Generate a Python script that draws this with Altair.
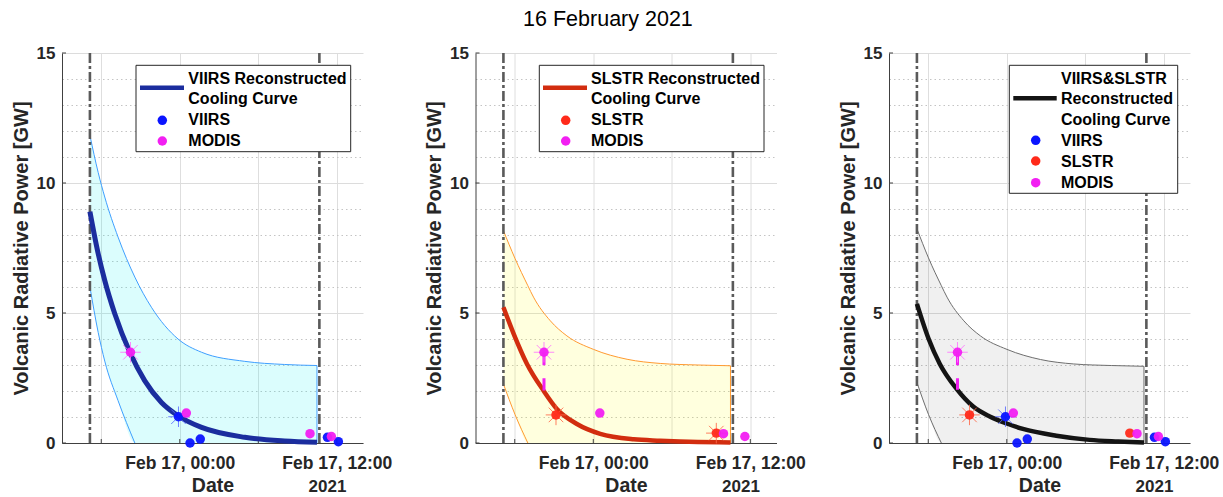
import altair as alt
import pandas as pd

FONT = "Liberation Sans"
TXT = "#262626"


def ts(s):
    d, hm = s.split()
    return f"2021-02-{d}T{hm}:00"


# ---------------- data ----------------
WINDOW_T = ["16 17:08", "17 10:40"]          # dash-dot analysis window
GRID_T = ["16 18:00", "17 00:00", "17 06:00", "17 12:00"]
Y_TICKS = [0, 5, 10, 15]

# panel 1: VIIRS reconstructed cooling curve
FIT1_T = ["16 17:08", "16 17:46", "16 18:16", "16 19:02", "16 20:11", "16 21:19",
          "16 22:36", "16 23:52", "17 01:40", "17 04:58", "17 08:00", "17 10:29"]
FIT1_V = [8.90, 7.28, 6.25, 4.97, 3.49, 2.40, 1.56, 1.05, 0.60, 0.22, 0.08, 0.03]
BAND1_T = ["16 17:08", "16 17:46", "16 18:16", "16 19:17", "16 20:34", "16 21:50",
           "16 23:52", "17 01:40", "17 04:58", "17 08:00", "17 10:29"]
BAND1_HI = [11.83, 10.40, 9.46, 7.92, 6.38, 5.22, 4.00, 3.49, 3.14, 3.02, 2.98]
BAND1_LO = [6.00, 4.25, 3.15, 1.63, 0.00, 0, 0, 0, 0, 0, 0]

# panel 2: SLSTR reconstructed cooling curve
FIT2_T = ["16 17:08", "16 17:55", "16 18:56", "16 20:12", "16 21:13", "16 22:45",
          "17 00:32", "17 03:05", "17 05:07", "17 08:00", "17 10:29"]
FIT2_V = [5.22, 4.20, 3.04, 2.01, 1.31, 0.73, 0.35, 0.14, 0.09, 0.04, 0.02]
BAND2_T = ["16 17:08", "16 18:01", "16 19:00", "16 19:26", "16 20:43", "16 21:59",
           "17 00:01", "17 02:35", "17 05:07", "17 08:00", "17 10:29"]
BAND2_HI = [8.17, 7.10, 6.05, 5.61, 4.70, 4.12, 3.60, 3.22, 3.06, 3.00, 2.97]
BAND2_LO = [2.27, 1.10, 0.00, 0, 0, 0, 0, 0, 0, 0, 0]

# panel 3: VIIRS&SLSTR reconstructed cooling curve
FIT3_T = ["16 17:08", "16 18:01", "16 18:53", "16 20:10", "16 21:26", "16 22:42",
          "17 00:00", "17 01:14", "17 03:47", "17 06:20", "17 08:30", "17 10:29"]
FIT3_V = [5.35, 4.02, 3.04, 2.08, 1.40, 1.02, 0.75, 0.54, 0.28, 0.12, 0.06, 0.02]
BAND3_T = BAND2_T
BAND3_HI = [8.24, 7.12, 6.05, 5.61, 4.70, 4.12, 3.60, 3.21, 3.04, 2.98, 2.95]
BAND3_LO = [2.33, 1.10, 0.00, 0, 0, 0, 0, 0, 0, 0, 0]

# observations
VIIRS_T = ["16 23:54", "17 00:47", "17 01:34", "17 11:17", "17 12:07"]
VIIRS_V = [1.01, 0.00, 0.15, 0.22, 0.05]
MODIS_T = ["16 20:14", "17 00:30", "17 09:57", "17 11:35"]
MODIS_V = [3.49, 1.15, 0.36, 0.25]
SLSTR_T = ["16 21:09", "17 09:24"]
SLSTR_V = [1.08, 0.38]

# ---------------- styling ----------------
W, H = 301, 390
X_SCALE = alt.Scale(domain=[alt.DateTime(year=2021, month=2, date=16, hours=15),
                            alt.DateTime(year=2021, month=2, date=17, hours=14)])
Y_SCALE = alt.Scale(domain=[0, 15], nice=False)

X_AXIS = alt.Axis(
    values=[alt.DateTime(year=2021, month=2, date=int(s.split()[0]),
                         hours=int(s.split()[1][:2])) for s in GRID_T],
    labelExpr="hours(datum.value) % 12 === 0 ? timeFormat(datum.value, '%b %d, %H:%M') : ''",
    grid=True, gridColor="#dedede", ticks=False, tickSize=0,
    domainColor="#404040", labelPadding=11, titlePadding=5,
    labelFontSize=17.5, titleFontSize=19.5, labelOverlap=False, labelBound=False,
    labelFlush=False,
)
Y_AXIS = alt.Axis(
    values=list(range(16)),
    labelExpr="datum.value % 5 === 0 ? datum.label : ''",
    grid=True,
    gridColor={"condition": {"test": "datum.value % 5 === 0", "value": "#dcdcdc"}, "value": "#c4c4c4"},
    gridDash={"condition": {"test": "datum.value % 5 === 0", "value": []}, "value": [1.5, 3]},
    ticks=False, tickSize=0, domainColor="#404040", labelPadding=7, titlePadding=5,
    labelFontSize=17, titleFontSize=20,
)


def frame(times, **cols):
    d = {"t": [ts(s) for s in times]}
    d.update(cols)
    return pd.DataFrame(d)


def xenc():
    return alt.X("t:T", scale=X_SCALE, axis=X_AXIS, title="Date")


def yenc():
    return alt.Y("v:Q", scale=Y_SCALE, axis=Y_AXIS, title="Volcanic Radiative Power [GW]")


ONE = pd.DataFrame({"k": [0]})

STAR_PATH = "M-1,0L1,0M0,-1L0,1M-0.71,-0.71L0.71,0.71M-0.71,0.71L0.71,-0.71"

SERIES = {
    "VIIRS": (VIIRS_T, VIIRS_V, "#0a14ff", "#5a6bff"),
    "SLSTR": (SLSTR_T, SLSTR_V, "#ff2a1a", "#ff6a4a"),
    "MODIS": (MODIS_T, MODIS_V, "#f21ff2", "#ff77ff"),
}


def panel(fit_t, fit_v, band_t, hi, lo, fill, fill_op, edge, curve, curve_w,
          series, stars, resid, legend):
    layers = []
    band = frame(band_t, v=hi, v2=lo)
    layers.append(alt.Chart(band).mark_area(color=fill, opacity=fill_op, interpolate="monotone")
                  .encode(x=xenc(), y=yenc(), y2="v2:Q"))
    layers.append(alt.Chart(band).mark_line(color=edge, strokeWidth=1, interpolate="monotone")
                  .encode(x=xenc(), y=yenc()))
    nz = next(i for i, x in enumerate(lo) if x <= 0)
    low = frame(band_t[: nz + 1], v=lo[: nz + 1])
    layers.append(alt.Chart(low).mark_line(color=edge, strokeWidth=1, interpolate="monotone")
                  .encode(x=xenc(), y=yenc()))
    edge_df = frame([band_t[-1]], v=[0.0], v2=[hi[-1]])
    layers.append(alt.Chart(edge_df).mark_rule(color=edge, strokeWidth=1)
                  .encode(x=xenc(), y=yenc(), y2="v2:Q"))
    # inward ticks
    layers.append(alt.Chart(pd.DataFrame({"v": Y_TICKS})).mark_rule(color="#404040")
                  .encode(y=yenc(), x=alt.value(0), x2=alt.value(4)))
    layers.append(alt.Chart(frame(GRID_T)).mark_rule(color="#404040")
                  .encode(x=xenc(), y=alt.value(H), y2=alt.value(H - 4)))
    # dash-dot window
    layers.append(alt.Chart(frame(WINDOW_T)).mark_rule(color="#5a5a5a", strokeWidth=2.6,
                                                       strokeDash=[10, 3, 3, 3])
                  .encode(x=xenc()))
    # fitted curve
    layers.append(alt.Chart(frame(fit_t, v=fit_v)).mark_line(color=curve, strokeWidth=curve_w,
                                                             interpolate="monotone")
                  .encode(x=xenc(), y=yenc()))
    # residual (dashed magenta)
    if resid is not None:
        rd = frame([MODIS_T[0]], v=[MODIS_V[0]], v2=[resid])
        layers.append(alt.Chart(rd).mark_rule(color="#f21ff2", strokeWidth=3, strokeDash=[13, 13])
                      .encode(x=xenc(), y=yenc(), y2="v2:Q"))
    # stars
    for name in series:
        tt, vv, col, scol = SERIES[name]
        idx = stars.get(name, [])
        if idx:
            sd = frame([tt[i] for i in idx], v=[vv[i] for i in idx])
            layers.append(alt.Chart(sd).mark_point(shape=STAR_PATH, size=420, color=scol,
                                                   strokeWidth=1, opacity=0.85, filled=False)
                          .encode(x=xenc(), y=yenc()))
    # points
    for name in series:
        tt, vv, col, scol = SERIES[name]
        layers.append(alt.Chart(frame(tt, v=vv)).mark_circle(size=90, color=col, opacity=0.95)
                      .encode(x=xenc(), y=yenc()))
    # legend (drawn box)
    bx0, by0, bx1, by1 = legend["box"]
    layers.append(alt.Chart(ONE).mark_rect(fill="white", stroke="#262626", strokeWidth=1)
                  .encode(x=alt.value(bx0), x2=alt.value(bx1), y=alt.value(by0), y2=alt.value(by1)))
    lx0, lx1, ly = legend["line"]
    layers.append(alt.Chart(ONE).mark_rule(color=curve, strokeWidth=4.5)
                  .encode(x=alt.value(lx0), x2=alt.value(lx1), y=alt.value(ly)))
    mx = legend["mx"]
    for name, my in zip(series, legend["my"]):
        layers.append(alt.Chart(ONE).mark_circle(size=90, color=SERIES[name][2], opacity=1)
                      .encode(x=alt.value(mx), y=alt.value(my)))
    layers.append(alt.Chart(ONE).mark_text(font=FONT, fontSize=16, fontWeight="bold", color="#000",
                                           align="left", baseline="middle", lineHeight=20.8)
                  .encode(x=alt.value(legend["tx"]), y=alt.value(legend["ty"]),
                          text=alt.value(legend["lines"])))
    # year label
    layers.append(alt.Chart(ONE).mark_text(font=FONT, fontSize=17, fontWeight="bold", color=TXT)
                  .encode(x=alt.value(265.5), y=alt.value(433.5), text=alt.value("2021")))
    return alt.layer(*layers).properties(width=W, height=H)


p1 = panel(FIT1_T, FIT1_V, BAND1_T, BAND1_HI, BAND1_LO, "#00f0f0", 0.14, "#3f9fff", "#1b2d9e", 5,
           ["VIIRS", "MODIS"], {"VIIRS": [0], "MODIS": [0]}, None,
           {"box": (74, 12.3, 288.7, 98.7), "line": (78, 122, 34.7), "mx": 100.3,
            "my": [67.3, 88], "tx": 126.3, "ty": 25.7,
            "lines": ["VIIRS Reconstructed", "Cooling Curve", "VIIRS", "MODIS"]})
p2 = panel(FIT2_T, FIT2_V, BAND2_T, BAND2_HI, BAND2_LO, "#ffff00", 0.13, "#ff9a30", "#d22d0f", 4.5,
           ["SLSTR", "MODIS"], {"MODIS": [0], "SLSTR": [0, 1]}, 2.02,
           {"box": (63.8, 12.3, 288.5, 98.7), "line": (67.5, 111.5, 34.7), "mx": 90.2,
            "my": [67.3, 88], "tx": 115.5, "ty": 25.7,
            "lines": ["SLSTR Reconstructed", "Cooling Curve", "SLSTR", "MODIS"]})
p3 = panel(FIT3_T, FIT3_V, BAND3_T, BAND3_HI, BAND3_LO, "#000000", 0.06, "#6e6e6e", "#141414", 4.5,
           ["VIIRS", "SLSTR", "MODIS"], {"MODIS": [0], "SLSTR": [0], "VIIRS": [0]}, 2.05,
           {"box": (120.3, 12.3, 288.7, 140.3), "line": (124.3, 167.7, 45.3), "mx": 146.7,
            "my": [87.3, 108, 129.7], "tx": 172, "ty": 25.7,
            "lines": ["VIIRS&SLSTR", "Reconstructed", "Cooling Curve", "VIIRS", "SLSTR", "MODIS"]})

chart = alt.hconcat(p1, p2, p3, spacing=112.5, bounds="flush").properties(
    title=alt.TitleParams("16 February 2021", fontSize=21.5, fontWeight="normal", font=FONT,
                          color="#000", anchor="middle", offset=14, dx=-7),
    padding={"left": 11, "top": 8, "right": 0, "bottom": 0},
).configure_view(stroke=None).configure_axis(
    labelFont=FONT, titleFont=FONT, labelFontWeight="bold", titleFontWeight="bold",
    labelColor=TXT, titleColor=TXT,
)

chart.save("out.html", embed_options={"renderer": "svg", "actions": False})
